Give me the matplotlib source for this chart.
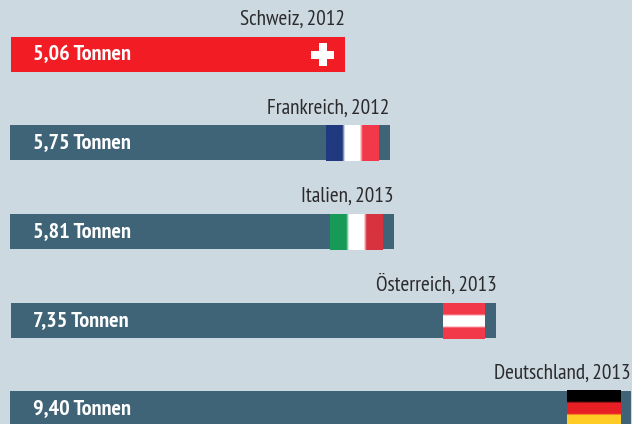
#!/usr/bin/env python3
import numpy as np
import matplotlib
matplotlib.use("Agg")
import matplotlib.pyplot as plt
from matplotlib.colors import to_rgb

# Data
countries = ["Schweiz, 2012", "Frankreich, 2012", "Italien, 2013", "Österreich, 2013", "Deutschland, 2013"]
tonnes = [5.06, 5.75, 5.81, 7.35, 9.40]
tonnes_labels = ["5,06 Tonnen", "5,75 Tonnen", "5,81 Tonnen", "7,35 Tonnen", "9,40 Tonnen"]
flags = [
    None,
    ("v", ["#20397f", "#ffffff", "#f2394a"]),
    ("v", ["#179a57", "#ffffff", "#d8323f"]),
    ("h", ["#f2394a", "#ffffff", "#f2394a"]),
    ("h", ["#000000", "#e81f25", "#ffcb25"]),
]

bg = "#cdd9e1"
blue = "#3f6477"
red = "#f21c24"
txt = "#2b2b2d"
font = ["PT Sans Narrow", "Fira Sans Condensed", "Liberation Sans", "DejaVu Sans"]

px_per_t = 66.05
w, h = 632, 424
y_step = 88.5
y0 = 54.5
# the bars in the original are not quite aligned
left_px = [1, 0, 0, 1, 0]
nudge_px = [0, -0.5, 0, 0.5, 0]


def px_x(n):
    return n / px_per_t


def px_y(n):
    return n / y_step


fig = plt.figure(figsize=(w / 100, h / 100), dpi=100, facecolor=bg)
ax = fig.add_axes([0, 0, 1, 1])
ax.set_facecolor(bg)
ax.axis("off")

colors = [red] + [blue] * 4
for i in range(len(tonnes)):
    yc = i + px_y(nudge_px[i])
    left = px_x(left_px[i])
    end = left + tonnes[i]
    ax.barh(yc, tonnes[i], left=left, height=35 / y_step, color=colors[i], linewidth=0, zorder=1)

    # value and country labels
    ax.text(px_x(23), yc + px_y(0.3), tonnes_labels[i], color="white", fontsize=16, fontweight="bold",
            family=font, va="center", ha="left", zorder=3)
    ax.text(end, i - px_y(25.3), countries[i], color=txt, fontsize=15.3,
            family=font, va="bottom", ha="right", zorder=3)

    if flags[i] is None:
        continue
    kind, stripes = flags[i]
    # repeated samples so that the stripes only blur at their edges
    rgb = np.repeat(np.array([to_rgb(c) for c in stripes]), 6, axis=0)
    img = rgb[np.newaxis, :, :] if kind == "v" else rgb[:, np.newaxis, :]
    fw = 42 if i == 3 else 53
    right = end - px_x(11)
    ax.imshow(img, extent=(right - px_x(fw), right, yc + px_y(18), yc - px_y(18)),
              aspect="auto", interpolation="bilinear", zorder=2)

# Swiss cross
cx = px_x(left_px[0]) + tonnes[0] - px_x(22.5)
ax.barh(0, px_x(23), left=cx - px_x(11.5), height=px_y(8), color="white", linewidth=0, zorder=2)
ax.barh(0, px_x(8), left=cx - px_x(4), height=px_y(23), color="white", linewidth=0, zorder=2)

ax.set_xlim(px_x(-10), px_x(w - 10))
ax.set_ylim((h - y0) / y_step, -y0 / y_step)

fig.savefig("out.png", dpi=100, facecolor=bg)
